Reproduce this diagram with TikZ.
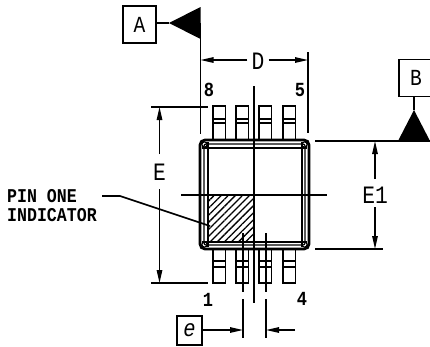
\documentclass[tikz,border=0pt]{standalone}
\usepackage{fontspec}
\setmainfont{Liberation Mono}
\newfontfamily\cadfont[FakeStretch=0.85]{Liberation Mono}
\usetikzlibrary{arrows.meta,patterns.meta}

\begin{document}
\begin{tikzpicture}[
    x=1pt, y=-1pt,
    dim/.style={line width=1.3pt},
    dimarrow/.style={dim, -{Stealth[length=13pt,width=5.5pt,inset=0pt]}},
    lead/.style={draw, line width=1.7pt},
    tag/.style={rectangle, draw, line width=1.3pt, inner sep=0pt, font=\cadfont\fontsize{23}{23}\selectfont},
    dimtext/.style={inner sep=0pt, font=\cadfont\fontsize{25}{25}\selectfont},
    pinnum/.style={inner sep=0pt, font=\cadfont\bfseries\fontsize{20}{20}\selectfont}
]
    \useasboundingbox (0, 0) rectangle (430, 346);

    % Package body
    \fill[pattern={Lines[angle=45,distance=5pt,line width=1.3pt]}] (208, 196) rectangle (254, 241);
    \draw[line width=2.8pt, rounded corners=5pt] (200, 140) rectangle (309, 249);
    \draw[line width=1.2pt, rounded corners=2pt] (204, 144) rectangle (305, 245);
    \draw[line width=1.2pt] (208, 142) -- (208, 247);
    \draw[line width=1.2pt] (302, 142) -- (302, 247);
    \draw[line width=1.2pt] (202, 148) -- (307, 148);
    \draw[line width=1.2pt] (202, 242) -- (307, 242);
    \foreach \x in {204.5, 304.5} {
        \foreach \y in {144.5, 244.5} {
            \draw[line width=1.1pt] (\x, \y) circle (2.6pt);
        }
    }

    % Leads
    \foreach \x in {213, 236, 259, 283} {
        \draw[lead] (\x, 140) |- (\x+12.5, 106) -- (\x+12.5, 140);
        \draw[lead] (\x, 119) -- ++(12.5, 0);
        \draw[lead] (\x, 123) -- ++(12.5, 0);
        \draw[lead] (\x, 249) |- (\x+12.5, 283) -- (\x+12.5, 249);
        \draw[lead] (\x, 261) -- ++(12.5, 0);
        \draw[lead] (\x, 267) -- ++(12.5, 0);
    }

    % Center lines
    \coordinate (vtop) at (254, 86);
    \coordinate (vbot) at (254, 303);
    \coordinate (hleft) at (181, 195);
    \coordinate (hright) at (327, 195);
    \draw[dim] (vtop) -- (vbot);
    \draw[dim] (hleft) -- (hright);

    % Datum A
    \node[tag, minimum width=33pt, minimum height=37pt] (datumA) at (139.5, 24.5) {A};
    \coordinate (triA) at (169, 23);
    \coordinate (extD) at (200.5, 134);
    \coordinate (baseA) at (200.5, 23);
    \draw[dim] (datumA.east |- triA) -- (triA);
    \fill (triA) -- (200.5, 7) -- (200.5, 39) -- cycle;
    \draw[dim] (baseA) -- (extD);

    % Datum B
    \node[tag, minimum width=34pt, minimum height=37pt] (datumB) at (416, 78) {B};
    \coordinate (triB) at (414, 110);
    \draw[dim] (datumB.south -| triB) -- (triB);
    \fill (triB) -- (398, 141) -- (430, 141) -- cycle;

    % Dimension D
    \node[dimtext] (dimD) at (258, 61) {D};
    \coordinate (extDtop) at (200.5, 60);
    \coordinate (extDr) at (308, 60);
    \draw[dim] (308, 52) -- (308, 133);
    \draw[dimarrow] (dimD.west |- extDtop) ++(-4, 0) -- (extDtop);
    \draw[dimarrow] (dimD.east |- extDr) ++(4, 0) -- (extDr);

    % Dimension E
    \node[dimtext] (dimE) at (159.5, 172) {E};
    \coordinate (Etop) at (159.5, 107);
    \coordinate (Ebot) at (159.5, 283);
    \draw[dim] (151, 107) -- (208, 107);
    \draw[dim] (151, 283) -- (208, 283);
    \draw[dimarrow] (159.5, 154) -- (Etop);
    \draw[dimarrow] (159.5, 189) -- (Ebot);

    % Dimension E1
    \node[dimtext] (dimEone) at (375, 195) {E1};
    \coordinate (Eonetop) at (375, 141);
    \coordinate (Eonebot) at (375, 249);
    \draw[dim] (315, 141) -- (430, 141);
    \draw[dim] (315, 249) -- (383, 249);
    \draw[dimarrow] (375, 179) -- (Eonetop);
    \draw[dimarrow] (375, 207) -- (Eonebot);

    % Dimension e
    \node[tag, minimum width=25pt, minimum height=29pt, font=\cadfont\fontsize{24}{24}\selectfont\itshape] (dime) at (189.5, 330.5) {e};
    \coordinate (eleft) at (243, 330);
    \coordinate (eright) at (266, 330);
    \coordinate (etail) at (295, 330);
    \draw[dim] (243, 233) -- (243, 292);
    \draw[dim] (243, 299) -- (243, 338);
    \draw[dim] (266, 233) -- (266, 292);
    \draw[dim] (266, 299) -- (266, 338);
    \draw[dimarrow] (dime.east |- eleft) -- (eleft);
    \draw[dimarrow] (etail) -- (eright);

    % Pin numbers
    \node[pinnum] (pin8) at (209, 90) {8};
    \node[pinnum] (pin5) at (300, 90) {5};
    \node[pinnum] (pin1) at (208, 300) {1};
    \node[pinnum] (pin4) at (302, 299) {4};

    % Pin one indicator
    \node[inner sep=0pt, anchor=north west, align=left, font=\cadfont\fontsize{19.5}{19}\selectfont\bfseries] (indicator) at (7, 189) {PIN ONE\\INDICATOR};
    \coordinate (leader) at (120, 196);
    \coordinate (pinspot) at (210, 226);
    \draw[line width=1.6pt] (102, 196) -- (leader) -- (pinspot);

\end{tikzpicture}
\end{document}
